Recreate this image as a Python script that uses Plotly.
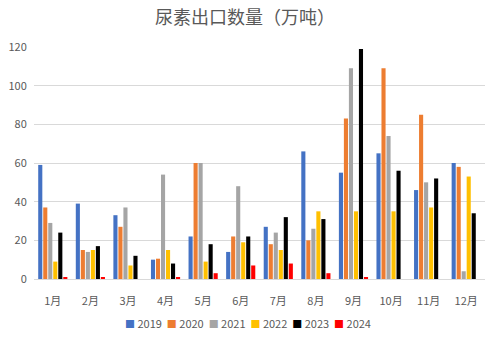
import plotly.graph_objects as go

months = ["1月", "2月", "3月", "4月", "5月", "6月", "7月", "8月", "9月", "10月", "11月", "12月"]
years = ["2019", "2020", "2021", "2022", "2023", "2024"]
v2019 = [59, 39, 33, 10, 22, 14, 27, 66, 55, 65, 46, 60]
v2020 = [37, 15, 27, 10.5, 60, 22, 18, 20, 83, 109, 85, 58]
v2021 = [29, 14, 37, 54, 60, 48, 24, 26, 109, 74, 50, 4]
v2022 = [9, 15, 7, 15, 9, 19, 15, 35, 35, 35, 37, 53]
v2023 = [24, 17, 12, 8, 18, 22, 32, 31, 119, 56, 52, 34]
v2024 = [1, 1, None, 1, 3, 7, 8, 3, 1, None, None, None]
colors = ["#4472C4", "#ED7D31", "#A5A5A5", "#FFC000", "#000000", "#FF0000"]
series = [v2019, v2020, v2021, v2022, v2023, v2024]

fig = go.Figure()
for name, vals, c in zip(years, series, colors):
    fig.add_trace(go.Bar(x=months, y=vals, name=name, marker_color=c, marker_line_width=0,
                         showlegend=False))

legend_text = "&nbsp;&nbsp;".join(
    f"<span style='color:{c};font-size:10px'>■</span>&nbsp;{y}" for y, c in zip(years, colors)
)
fig.add_annotation(text=legend_text, xref="paper", yref="paper", x=0.474, xanchor="center",
                   y=-0.19, yanchor="middle", showarrow=False,
                   font=dict(family="Noto Sans CJK SC", size=11, color="#595959"))

fig.update_layout(
    width=490, height=345,
    margin=dict(l=34, r=5, t=47, b=66, autoexpand=False),
    paper_bgcolor="white", plot_bgcolor="white",
    barmode="group", bargap=0.2, bargroupgap=0.18,
    title=dict(text="尿素出口数量（万吨）", x=0.5, xanchor="center", y=0.95, yanchor="middle",
               font=dict(family="Noto Sans CJK SC", size=18, color="#595959")),
    font=dict(family="Noto Sans CJK SC", size=11, color="#595959"),
    showlegend=False,
)
fig.update_yaxes(range=[0, 120], dtick=20, showgrid=True, gridcolor="#D9D9D9", gridwidth=1,
                 zeroline=False, showline=False, ticks="outside", ticklen=4,
                 tickcolor="rgba(0,0,0,0)", tickfont=dict(size=11, color="#595959"))
fig.update_xaxes(showline=True, linecolor="#D9D9D9", linewidth=1, ticks="outside", ticklen=12,
                 tickcolor="rgba(0,0,0,0)", showgrid=False,
                 tickfont=dict(size=11, color="#595959"))

fig.write_html("out.html")
